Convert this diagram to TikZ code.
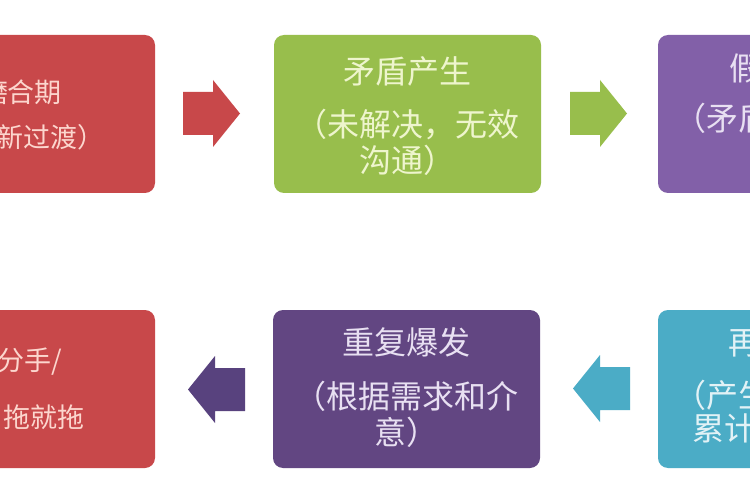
\documentclass[tikz,border=0pt]{standalone}
\usepackage{fontspec}
\newfontfamily\cjk{Noto Sans CJK SC}
\definecolor{boxred}{RGB}{200,72,74}
\definecolor{boxgreen}{RGB}{152,190,76}
\definecolor{boxviolet}{RGB}{130,96,168}
\definecolor{boxplum}{RGB}{98,70,130}
\definecolor{boxcyan}{RGB}{75,172,198}
\definecolor{arrowplum}{RGB}{88,66,126}
\definecolor{txtred}{RGB}{252,214,206}
\definecolor{txtgreen}{RGB}{238,245,205}
\definecolor{txtviolet}{RGB}{232,224,242}
\definecolor{txtcyan}{RGB}{226,242,246}
\tikzset{
  stage/.style={rounded corners=10pt, minimum width=267pt, minimum height=158pt, inner sep=0pt},
  stagetxt/.style={font=\cjk\fontsize{32}{36}\selectfont, align=center, inner sep=0pt},
  redtxt/.style={font=\cjk\fontsize{27}{32}\selectfont, text=txtred, inner sep=0pt},
}
\begin{document}
\begin{tikzpicture}[x=1pt, y=-1pt]
\useasboundingbox (0,0) rectangle (750,500);
\clip (0,0) rectangle (750,500);
\fill[white] (0,0) rectangle (750,500);
% boxes
\node[stage, fill=boxred]    (meet)  at (21.5,114)  {};
\node[stage, fill=boxgreen]  (clash) at (407.5,114) {};
\node[stage, fill=boxviolet] (calm)  at (791.5,114) {};
\node[stage, fill=boxred]    (split) at (21.5,389)  {};
\node[stage, fill=boxplum]   (burst) at (406.5,389) {};
\node[stage, fill=boxcyan]   (again) at (791.5,389) {};
% arrows
\foreach \tx/\ty/\d/\c in {240/113.5/1/boxred, 627/113.5/1/boxgreen, 188/389.5/-1/arrowplum, 573/388.5/-1/boxcyan}
{
\fill[\c] (\tx,\ty) -- ++(-27*\d,-33.5) -- ++(0,12) -- ++(-30*\d,0) -- ++(0,43) -- ++(30*\d,0) -- ++(0,12) -- cycle;
}
% labels
\node[redtxt] (meet-a) at (21.5,92) {磨合期};
\node[redtxt] (meet-b) at (51,137)  {新过渡）};
\node[stagetxt, text=txtgreen] (clash-t) at (407.5,116) {矛盾产生\\[17pt]（未解决，无效\\沟通）};
\node[stagetxt, text=txtviolet] (calm-a) at (745,68)  {假};
\node[stagetxt, text=txtviolet] (calm-b) at (722,118) {（矛盾};
\node[redtxt] (split-a) at (29.5,362) {分手/};
\node[redtxt] (split-b) at (43.5,417) {拖就拖};
\node[stagetxt, text=txtviolet] (burst-t) at (406.5,388) {重复爆发\\[18pt]（根据需求和介\\意）};
\node[stagetxt, text=txtcyan] (again-a) at (744.5,343) {再};
\node[stagetxt, text=txtcyan] (again-b) at (722,395)   {（产生};
\node[stagetxt, text=txtcyan] (again-c) at (724,428)   {累计};
\end{tikzpicture}
\end{document}
